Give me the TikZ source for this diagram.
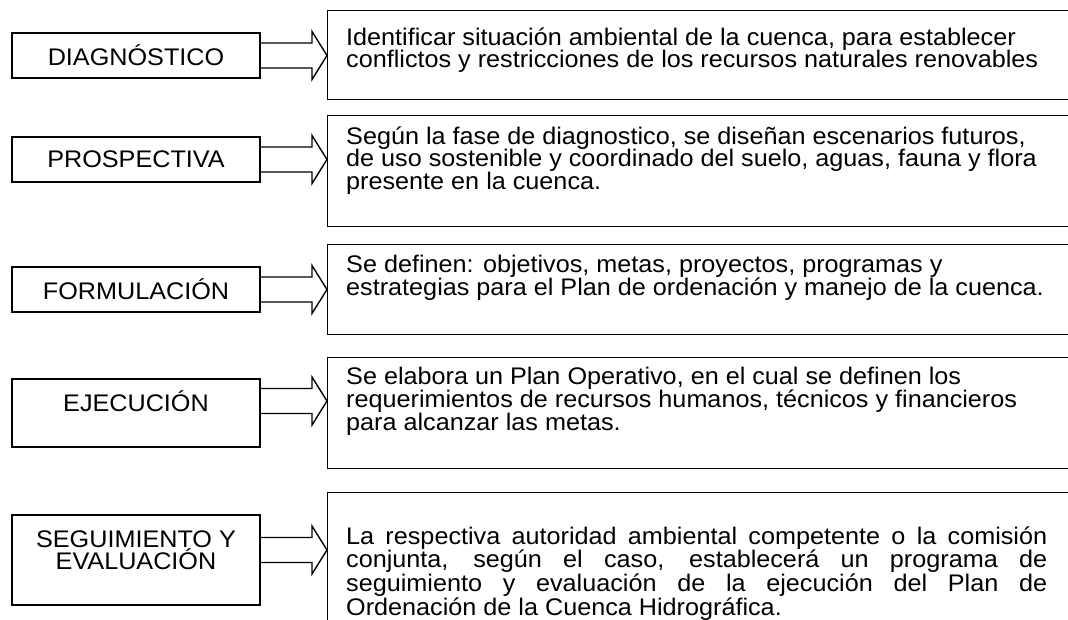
\documentclass[tikz,border=0pt]{standalone}
\usepackage{fontspec}
\setmainfont{Liberation Sans}[FakeStretch=1.05]
\usetikzlibrary{calc}
\newcommand{\firstline}{\rule{0pt}{23pt}}
\tikzset{
  lbox/.style={draw, line width=1.4pt, minimum width=248pt, inner sep=0pt, align=center,
    font=\fontsize{24}{24}\selectfont},
  rbox/.style={draw, line width=1.4pt, minimum width=760pt, anchor=north west, inner sep=0pt},
  rtext/.style={anchor=north west, inner sep=0pt, align=left, font=\fontsize{24}{22.5}\selectfont},
  ltext/.style={inner sep=0pt, align=center, font=\fontsize{24}{22}\selectfont},
  blockarrow/.style={line width=1.4pt, to path={
    ($(\tikztostart)+(0,-12.5)$) -- ($(\tikztotarget)+(-15,-12.5)$) -- ($(\tikztotarget)+(-15,-24)$)
    -- (\tikztotarget) -- ($(\tikztotarget)+(-15,24)$) -- ($(\tikztotarget)+(-15,12.5)$)
    -- ($(\tikztostart)+(0,12.5)$)}}
}
\begin{document}
\begin{tikzpicture}[x=1pt,y=-1pt]
\useasboundingbox (0,0) rectangle (1068,620);
\clip (0,0) rectangle (1068,620);
\fill[white] (0,0) rectangle (1068,620);

% left boxes
\node[lbox, minimum height=45pt] (L1) at (136,55.5) {DIAGNÓSTICO};
\node[lbox, minimum height=45pt] (L2) at (136,159.5) {PROSPECTIVA};
\node[lbox, minimum height=45pt] (L3) at (136,289.5) {FORMULACIÓN};
\node[lbox, minimum height=68pt] (L4) at (136,413) {};
\node[ltext] (L4t) at (136,401) {EJECUCIÓN};
\node[lbox, minimum height=90pt] (L5) at (136,560) {};
\node[ltext] (L5t) at (136,550) {SEGUIMIENTO Y\\EVALUACIÓN};

% right boxes
\node[rbox, minimum height=89pt] (R1) at (327,10) {};
\node[rbox, minimum height=111pt] (R2) at (327,115) {};
\node[rbox, minimum height=90pt] (R3) at (327,244) {};
\node[rbox, minimum height=111pt] (R4) at (327,357) {};
\node[rbox, minimum height=200pt] (R5) at (327,492) {};

% text: node top = first baseline - 23
\node[rtext] (R1t) at (346,22) {\firstline Identificar situación ambiental de la cuenca, para establecer\\conflictos y restricciones de los recursos naturales renovables};
\node[rtext] (R2t) at (346,121) {\firstline Según la fase de diagnostico, se diseñan escenarios futuros,\\de uso sostenible y coordinado del suelo, aguas, fauna y flora\\presente en la cuenca.};
\node[rtext] (R3t) at (346,249) {\firstline Se definen: objetivos, metas, proyectos, programas y\\estrategias para el Plan de ordenación y manejo de la cuenca.};
\node[rtext] (R4t) at (346,361) {\firstline Se elabora un Plan Operativo, en el cual se definen los\\requerimientos de recursos humanos, técnicos y financieros\\para alcanzar las metas.};
\node[rtext, font=\fontsize{24}{20.5}\selectfont] (R5t) at (346,521) {%
\makebox[701pt][s]{\firstline La respectiva autoridad ambiental competente o la comisión}\\
\makebox[701pt][s]{conjunta, según el caso, establecerá un programa de}\\
\makebox[701pt][s]{seguimiento y evaluación de la ejecución del Plan de}\\
Ordenación de la Cuenca Hidrográfica.};

% arrows
\draw[blockarrow] (L1.east) to (R1.west |- L1.east);
\draw[blockarrow] (L2.east) to (R2.west |- L2.east);
\draw[blockarrow] (L3.east) to (R3.west |- L3.east);
\draw[blockarrow] (L4t -| L4.east) to (R4.west |- L4t);
\draw[blockarrow] (L5t -| L5.east) to (R5.west |- L5t);
\end{tikzpicture}
\end{document}
